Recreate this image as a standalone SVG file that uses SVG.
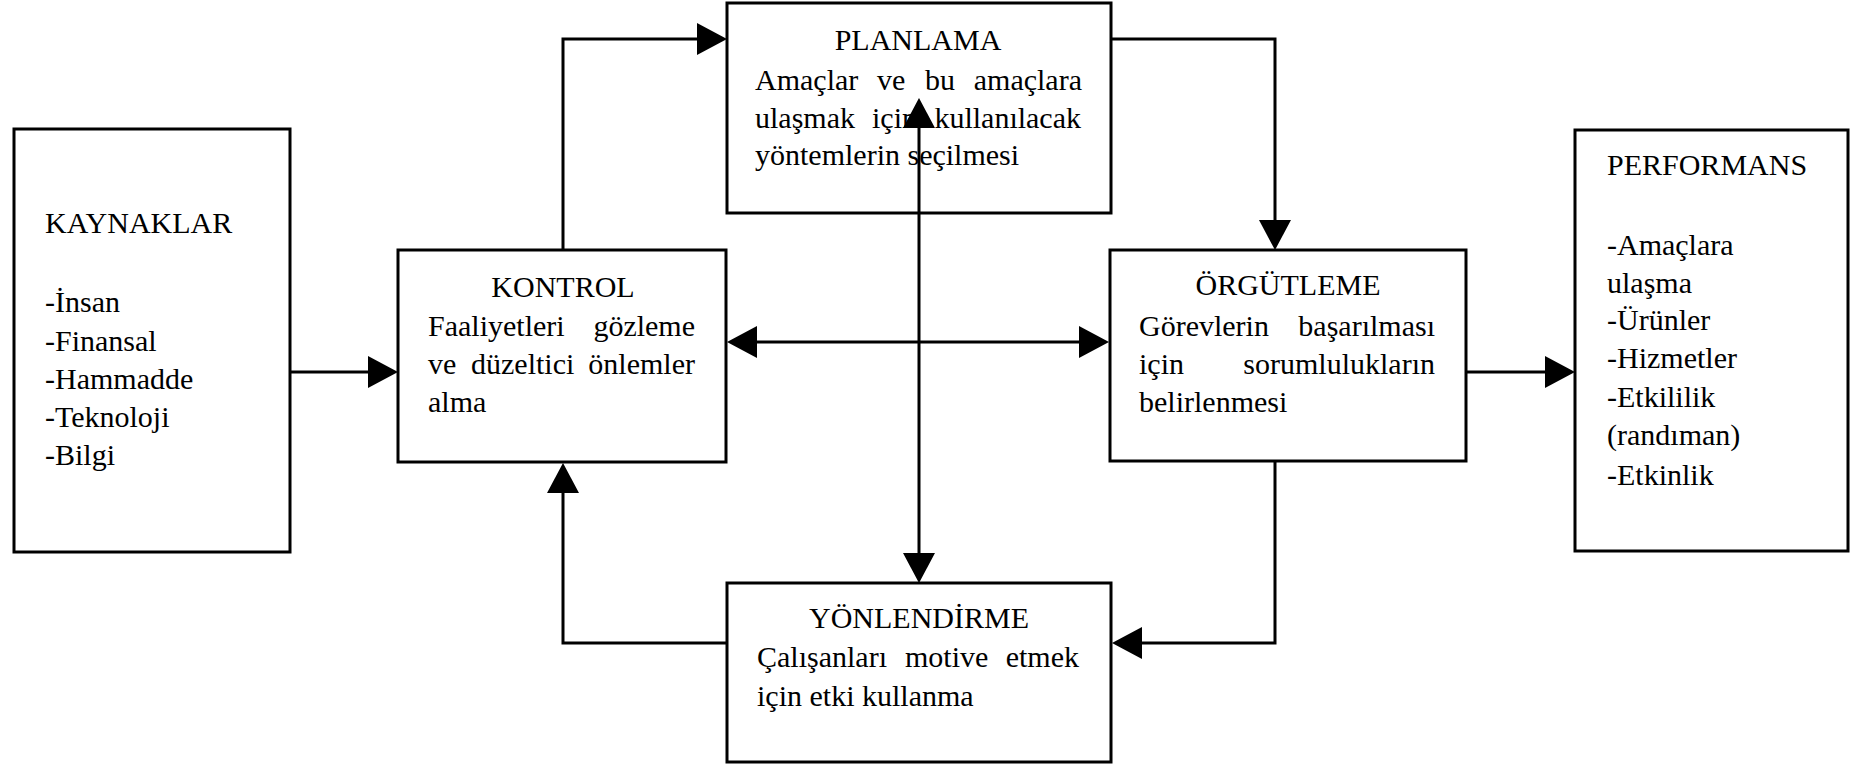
<svg xmlns="http://www.w3.org/2000/svg" width="1854" height="768" viewBox="0 0 1854 768">
  <style>
    .box { fill: #ffffff; stroke: #000000; stroke-width: 3; }
    .txt { font-family: "Liberation Serif", "Times New Roman", serif; font-size: 30px; fill: #000000; }
    .mid { text-anchor: middle; }
    .end { text-anchor: end; }
    .link { fill: none; stroke: #000000; stroke-width: 3; }
  </style>
  <defs>
    <marker id="arrow" viewBox="0 0 30 32" refX="20" refY="16" markerWidth="30" markerHeight="32" markerUnits="userSpaceOnUse" orient="auto-start-reverse">
      <path d="M0,0 L30,16 L0,32 Z" fill="#000000"/>
    </marker>
  </defs>
  <rect width="1854" height="768" fill="#ffffff"/>

  <g id="kaynaklar">
    <rect class="box" x="14" y="129" width="276" height="423"/>
    <text class="txt" x="45" y="233">KAYNAKLAR</text>
    <text class="txt" x="45" y="312">-İnsan</text>
    <text class="txt" x="45" y="351">-Finansal</text>
    <text class="txt" x="45" y="389">-Hammadde</text>
    <text class="txt" x="45" y="427">-Teknoloji</text>
    <text class="txt" x="45" y="465">-Bilgi</text>
  </g>

  <g id="kontrol">
    <rect class="box" x="398" y="250" width="328" height="212"/>
    <text class="txt mid" x="563" y="297">KONTROL</text>
    <!-- justified lines: words placed one by one -->
    <text class="txt" y="336"><tspan x="428">Faaliyetleri</tspan></text>
    <text class="txt end" x="695" y="336">gözleme</text>
    <text class="txt" y="374"><tspan x="428">ve</tspan><tspan x="471">düzeltici</tspan></text>
    <text class="txt end" x="695" y="374">önlemler</text>
    <text class="txt" x="428" y="412">alma</text>
  </g>

  <g id="planlama">
    <rect class="box" x="727" y="3" width="384" height="210"/>
    <text class="txt mid" x="918" y="50">PLANLAMA</text>
    <text class="txt" y="90"><tspan x="755">Amaçlar</tspan><tspan x="877">ve</tspan><tspan x="925">bu</tspan></text>
    <text class="txt end" x="1082" y="90">amaçlara</text>
    <text class="txt" y="128"><tspan x="755">ulaşmak</tspan><tspan x="872">için</tspan></text>
    <text class="txt end" x="1081" y="128">kullanılacak</text>
    <text class="txt" x="755" y="165">yöntemlerin seçilmesi</text>
  </g>

  <g id="orgutleme">
    <rect class="box" x="1110" y="250" width="356" height="211"/>
    <text class="txt mid" x="1288" y="295">ÖRGÜTLEME</text>
    <text class="txt" x="1139" y="336">Görevlerin</text>
    <text class="txt end" x="1435" y="336">başarılması</text>
    <text class="txt" x="1139" y="374">için</text>
    <text class="txt end" x="1435" y="374">sorumlulukların</text>
    <text class="txt" x="1139" y="412">belirlenmesi</text>
  </g>

  <g id="yonlendirme">
    <rect class="box" x="727" y="583" width="384" height="179"/>
    <text class="txt mid" x="919" y="628">YÖNLENDİRME</text>
    <text class="txt" y="667"><tspan x="757">Çalışanları</tspan><tspan x="905">motive</tspan></text>
    <text class="txt end" x="1079" y="667">etmek</text>
    <text class="txt" x="757" y="706">için etki kullanma</text>
  </g>

  <g id="performans">
    <rect class="box" x="1575" y="130" width="273" height="421"/>
    <text class="txt" x="1607" y="175">PERFORMANS</text>
    <text class="txt" x="1607" y="255">-Amaçlara</text>
    <text class="txt" x="1607" y="293">ulaşma</text>
    <text class="txt" x="1607" y="330">-Ürünler</text>
    <text class="txt" x="1607" y="368">-Hizmetler</text>
    <text class="txt" x="1607" y="407">-Etkililik</text>
    <text class="txt" x="1607" y="445">(randıman)</text>
    <text class="txt" x="1607" y="485">-Etkinlik</text>
  </g>

  <g id="connectors">
    <!-- resources into control -->
    <path class="link" d="M290,372 H388" marker-end="url(#arrow)"/>
    <!-- control up to planning -->
    <path class="link" d="M563,250 V39 H717" marker-end="url(#arrow)"/>
    <!-- planning to organizing -->
    <path class="link" d="M1111,39 H1275 V240" marker-end="url(#arrow)"/>
    <!-- organizing to directing -->
    <path class="link" d="M1275,461 V643 H1122" marker-end="url(#arrow)"/>
    <!-- directing back to control -->
    <path class="link" d="M727,643 H563 V473" marker-end="url(#arrow)"/>
    <!-- control <-> organizing -->
    <path class="link" d="M737,342 H1099" marker-start="url(#arrow)" marker-end="url(#arrow)"/>
    <!-- planning <-> directing -->
    <path class="link" d="M919,108 V573" marker-start="url(#arrow)" marker-end="url(#arrow)"/>
    <!-- organizing to performance -->
    <path class="link" d="M1466,372 H1565" marker-end="url(#arrow)"/>
  </g>
</svg>
